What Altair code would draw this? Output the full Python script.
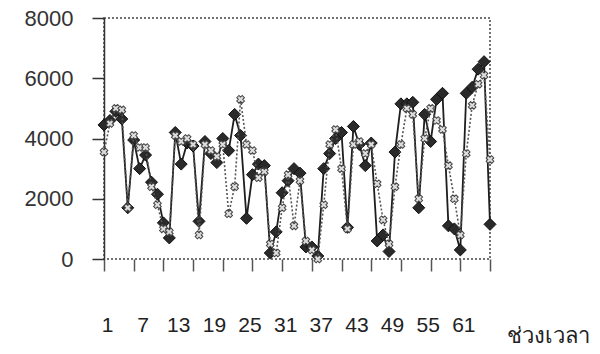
import altair as alt
import pandas as pd

# Category index (time periods)
periods = list(range(1, 67))

# Series 1 (dark diamonds, solid line)
series_diamond = [4450, 4600, 4900, 4650, 1700, 3950, 3000, 3450, 2550, 2150,
                  1200, 700, 4200, 3150, 3850, 3750, 1250, 3900, 3500, 3200,
                  4000, 3600, 4800, 4100, 1350, 2800, 3150, 3100, 200, 900,
                  2200, 2600, 3000, 2850, 400, 400, 100, 3000, 3500, 4000,
                  4200, 1050, 4400, 3800, 3100, 3850, 600, 800, 250, 3550,
                  5150, 5150, 5200, 1700, 4800, 3900, 5300, 5500, 1100, 1000,
                  300, 5500, 5700, 6300, 6550, 1150]

# Series 2 (light x markers, dotted line)
series_cross = [3550, 4500, 5000, 4950, 1700, 4100, 3700, 3700, 2400, 1800,
                1000, 900, 4100, 3900, 4000, 3800, 800, 3800, 3600, 3400,
                3800, 1500, 2400, 5300, 3800, 3600, 2700, 2900, 500, 200,
                1700, 2800, 1100, 2600, 600, 300, 0, 1800, 3800, 4300,
                3000, 1000, 3800, 3900, 3500, 3800, 2500, 1300, 500, 2400,
                3800, 5000, 4800, 2000, 4000, 5000, 4600, 4300, 3100, 2000,
                800, 3500, 5100, 5800, 6100, 3300]

y_ticks = [0, 2000, 4000, 6000, 8000]
x_tick_marks = [1, 6, 11, 16, 21, 26, 31, 36, 41, 46, 51, 56, 61, 66]
x_tick_labels = [1, 7, 13, 19, 25, 31, 37, 43, 49, 55, 61]
x_title = "ช่วงเวลา"

df = pd.DataFrame({"period": periods, "d": series_diamond, "c": series_cross})

xscale = alt.Scale(domain=[1, 66], nice=False, zero=False)
yscale = alt.Scale(domain=[0, 8000], nice=False)

yaxis = alt.Axis(values=y_ticks, title=None, grid=False, tickSize=12, format="d",
                 labelPadding=19, labelFontSize=22, labelFont="Liberation Sans",
                 domainColor="#333", tickColor="#333", labelColor="#333",
                 domainWidth=1.5, tickWidth=1.5)

x_axis_ticks = alt.Axis(values=x_tick_marks, labels=False, title=None, grid=False,
                        domain=False, tickSize=12, tickColor="#555", tickWidth=1.5,
                        orient="bottom")

x_axis_labels = alt.Axis(values=x_tick_labels, ticks=False, domain=False, grid=False,
                         labelPadding=55, labelFontSize=21, labelFont="Liberation Sans",
                         labelColor="#222", labelFlush=False, labelOffset=3,
                         title=x_title, titleX=444, titleY=83, titleFontSize=22,
                         titleFontWeight="normal", titleAlign="center",
                         titleBaseline="alphabetic", titleColor="#222",
                         orient="bottom")

base = alt.Chart(df)

d_line = base.mark_line(color="#1e1e1e", strokeWidth=1.8).encode(
    x=alt.X("period:Q", scale=xscale, axis=x_axis_ticks),
    y=alt.Y("d:Q", scale=yscale, axis=yaxis),
)
d_pts = base.mark_point(shape="diamond", filled=True, size=144, color="#2a2a2a",
                        stroke="#111", strokeWidth=1, opacity=1).encode(
    x=alt.X("period:Q", scale=xscale, axis=x_axis_ticks),
    y=alt.Y("d:Q", scale=yscale, axis=yaxis),
)
c_line = base.mark_line(color="#555", strokeWidth=1.6, strokeDash=[2, 2]).encode(
    x=alt.X("period:Q", scale=xscale, axis=x_axis_labels),
    y=alt.Y("c:Q", scale=yscale, axis=yaxis),
)
c_pts = base.mark_point(shape="cross", angle=45, filled=True, size=60, color="#ddd",
                        stroke="#444", strokeWidth=1, opacity=1).encode(
    x=alt.X("period:Q", scale=xscale, axis=x_axis_labels),
    y=alt.Y("c:Q", scale=yscale, axis=yaxis),
)

chart = alt.layer(alt.layer(d_line, d_pts), alt.layer(c_line, c_pts)).resolve_axis(
    x="independent"
).properties(
    width=386, height=241, background="white",
    padding={"left": 104, "top": 18, "right": 110, "bottom": 95},
    autosize=alt.AutoSizeParams(type="none"),
).configure_view(
    stroke="#444", strokeDash=[2, 2], strokeWidth=1.5
)

chart.save("out.html", embed_options={"renderer": "svg", "actions": False})
